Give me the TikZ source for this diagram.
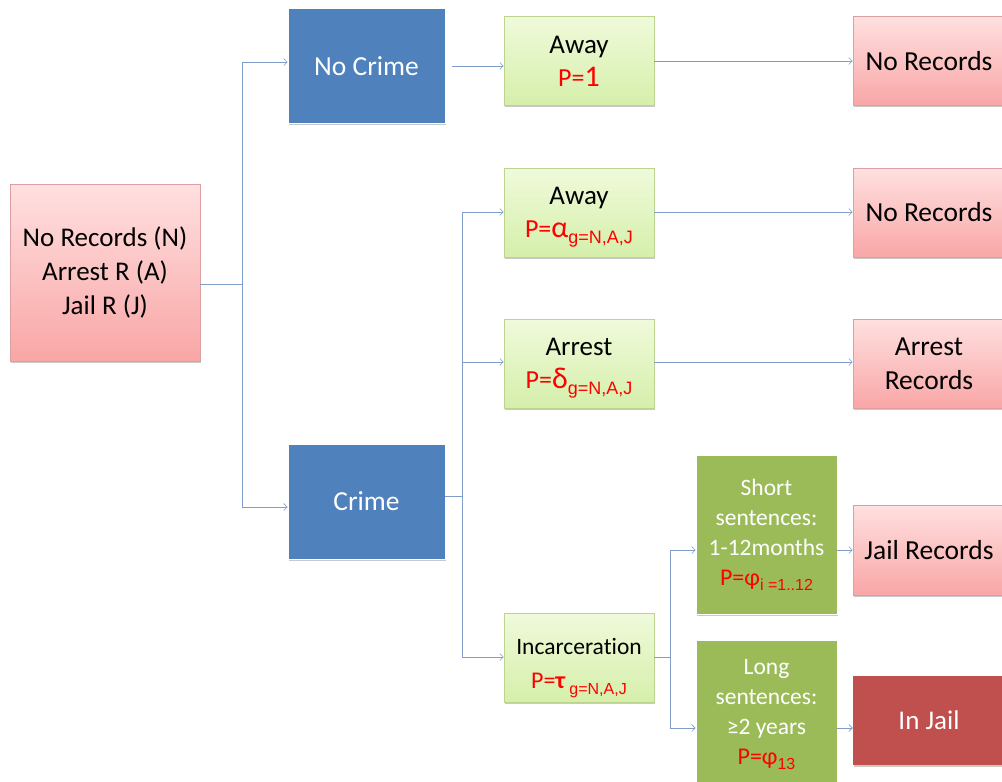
\documentclass[tikz,border=0pt]{standalone}
\usepackage{fontspec}
\setmainfont{Carlito}[Ligatures=NoCommon]
\newfontfamily\arialf{Liberation Sans}
\usetikzlibrary{arrows.meta,shadows}
\definecolor{pinkT}{HTML}{FFE0E0}
\definecolor{pinkB}{HTML}{F9A6A6}
\definecolor{pinkD}{HTML}{DDA0A0}
\definecolor{grnT}{HTML}{F0FADB}
\definecolor{grnB}{HTML}{D5EFAA}
\definecolor{grnD}{HTML}{BBD48F}
\definecolor{blueF}{HTML}{4F81BD}
\definecolor{oliveF}{HTML}{9BBB59}
\definecolor{redF}{HTML}{C0504D}
\definecolor{lineC}{HTML}{7F9DC9}
\definecolor{pred}{HTML}{FF0000}
\newcommand\Prob[4]{\textcolor{pred}{\fontsize{26pt}{30pt}\selectfont P=#1\raisebox{-#4}[0pt][0pt]{\arialf\fontsize{#2pt}{#2pt}\selectfont #3}}}
\tikzset{
  base/.style={rectangle, inner sep=0pt, align=center,
    drop shadow={shadow xshift=1.2pt, shadow yshift=-1.5pt, opacity=0.35, fill=black!60}},
  pinkbox/.style={base, top color=pinkT, bottom color=pinkB, draw=pinkD, line width=0.6pt,
    font=\fontsize{27pt}{34pt}\selectfont},
  greenbox/.style={base, top color=grnT, bottom color=grnB, draw=grnD, line width=0.6pt,
    minimum width=150pt, minimum height=89pt, font=\fontsize{27pt}{34pt}\selectfont},
  bluebox/.style={base, fill=blueF, draw=white, line width=0.8pt, text=white,
    minimum width=157pt, minimum height=115pt, font=\fontsize{27.5pt}{34pt}\selectfont},
  olivebox/.style={base, fill=oliveF, draw=white, line width=0.8pt, text=white,
    minimum width=141pt, font=\fontsize{23.5pt}{30pt}\selectfont},
  rightbox/.style={pinkbox, minimum width=152pt, minimum height=89pt, font=\fontsize{27.5pt}{34pt}\selectfont},
  textonly/.style={inner sep=0pt, align=center},
  conn/.style={draw=lineC, line width=0.7pt},
  arr/.style={conn, -{Straight Barb[length=3.5pt,width=7pt,line width=0.6pt]}}
}
\begin{document}
\begin{tikzpicture}[x=1pt,y=-1pt]
\useasboundingbox (0,0) rectangle (1002,782);
\clip (0,0) rectangle (1002,782);
\fill[white] (0,0) rectangle (1002,782);

% nodes
\node[pinkbox, minimum width=190pt, minimum height=177pt] (L) at (105,272.5)
  {No Records (N)\\Arrest R (A)\\Jail R (J)};
\node[bluebox] (NC) at (366.5,66) {No Crime};
\node[bluebox] (CR) at (366.5,501.5) {Crime};

\node[greenbox] (A1) at (579,61)
  {Away\\[-1pt]\textcolor{pred}{\fontsize{26pt}{30pt}\selectfont P=\fontsize{30pt}{30pt}\selectfont 1}};
\node[greenbox] (A2) at (579,212.5)
  {Away\\[-1pt]\Prob{\fontsize{30pt}{30pt}\selectfont α}{18}{g=N,A,J}{6pt}};
\node[greenbox] (AR) at (579,363.5)
  {Arrest\\[-1pt]\Prob{\fontsize{30pt}{30pt}\selectfont δ}{18}{g=N,A,J}{6pt}};
\node[greenbox] (INC) at (579,657.5) {};
\node[textonly, font=\fontsize{23.5pt}{34pt}\selectfont] (INCt) at (579,663)
  {Incarceration\\\textcolor{pred}{\fontsize{24pt}{28pt}\selectfont P=\textbf{τ}\,\raisebox{-6pt}[0pt][0pt]{\arialf\fontsize{16pt}{16pt}\selectfont g=N,A,J}}};

\node[olivebox, minimum height=159pt] (SH) at (766.5,534.5)
  {Short\\sentences:\\1-12months\\\textcolor{pred}{\fontsize{24pt}{28pt}\selectfont P=φ\raisebox{-5pt}{\arialf\fontsize{16pt}{16pt}\selectfont i =1..12}}};
\node[olivebox, minimum height=150pt] (LG) at (766.5,715)
  {Long\\sentences:\\≥2 years\\\textcolor{pred}{\fontsize{24pt}{28pt}\selectfont P=φ\raisebox{-5pt}{\arialf\fontsize{16pt}{16pt}\selectfont 13}}};

\node[rightbox] (R1) at (929,61) {No Records};
\node[rightbox] (R2) at (929,212.5) {No Records};
\node[rightbox] (R3) at (929,363.5) {Arrest\\Records};
\node[rightbox, minimum height=90pt] (R4) at (929,550) {Jail Records};
\node[base, fill=redF, text=white, minimum width=152pt, minimum height=89pt,
  font=\fontsize{27pt}{34pt}\selectfont] (R5) at (929,720.5) {In Jail};

% connectors: root
\coordinate (tM) at (242,284);
\coordinate (tA) at (242,62);
\coordinate (tB) at (242,507);
\draw[conn] (L.east |- tM) -- (tM);
\draw[conn] (tA) -- (tB);
\draw[arr] (tA) -- (NC.west |- tA);
\draw[arr] (tB) -- (CR.west |- tB);
% no crime
\draw[arr] ([xshift=7pt]NC.east) -- (A1.west |- NC.east);
\draw[arr] (A1.east) -- (R1.west);
% crime
\coordinate (cM) at (462,496);
\coordinate (cA) at (462,212);
\coordinate (cB) at (462,362);
\coordinate (cC) at (462,657);
\draw[conn] (CR.east |- cM) -- (cM);
\draw[conn] (cA) -- (cC);
\draw[arr] (cA) -- (A2.west |- cA);
\draw[arr] (cB) -- (AR.west |- cB);
\draw[arr] (cC) -- (INC.west |- cC);
\draw[arr] (A2.east |- cA) -- (R2.west |- cA);
\draw[arr] (AR.east |- cB) -- (R3.west |- cB);
% incarceration
\coordinate (iA) at (670,550);
\coordinate (iB) at (670,728);
\draw[conn] (INC.east |- cC) -- (iA |- cC);
\draw[conn] (iA) -- (iB);
\draw[arr] (iA) -- (SH.west |- iA);
\draw[arr] (iB) -- (LG.west |- iB);
\draw[arr] (SH.east |- iA) -- (R4.west |- iA);
\draw[arr] (LG.east |- iB) -- (R5.west |- iB);
\end{tikzpicture}
\end{document}
